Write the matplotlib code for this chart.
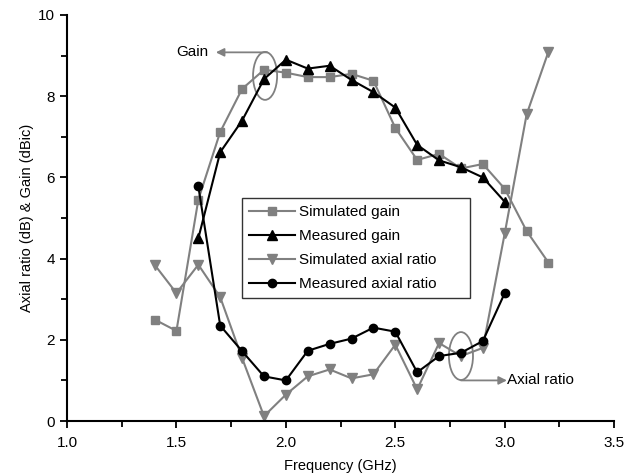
import numpy as np
import matplotlib
matplotlib.use('Agg')
import matplotlib.pyplot as plt
from matplotlib.patches import Ellipse
from matplotlib.ticker import MultipleLocator

plt.rcParams['font.family'] = ['Liberation Sans', 'DejaVu Sans']

# data
freq_sim = [1.4, 1.5, 1.6, 1.7, 1.8, 1.9, 2.0, 2.1, 2.2, 2.3, 2.4, 2.5, 2.6, 2.7, 2.8, 2.9, 3.0, 3.1, 3.2]
sim_gain = [2.5, 2.22, 5.45, 7.12, 8.18, 8.65, 8.58, 8.47, 8.47, 8.55, 8.38, 7.22, 6.43, 6.58, 6.22, 6.33, 5.72, 4.68, 3.9]
sim_ar = [3.85, 3.15, 3.85, 3.05, 1.55, 0.12, 0.65, 1.1, 1.27, 1.05, 1.15, 1.88, 0.78, 1.92, 1.6, 1.8, 4.62, 7.55, 9.1]

freq_meas = [1.6, 1.7, 1.8, 1.9, 2.0, 2.1, 2.2, 2.3, 2.4, 2.5, 2.6, 2.7, 2.8, 2.9, 3.0]
meas_gain = [4.5, 6.62, 7.4, 8.42, 8.9, 8.68, 8.75, 8.4, 8.1, 7.72, 6.8, 6.42, 6.25, 6.0, 5.4]
meas_ar = [5.78, 2.35, 1.72, 1.1, 1.0, 1.73, 1.9, 2.03, 2.3, 2.2, 1.2, 1.6, 1.68, 1.97, 3.15]

gray = '#808080'
fs = 11

fig = plt.figure(figsize=(6.34, 4.76), dpi=100)
ax = fig.add_axes([0.1057, 0.1155, 0.863, 0.853])

lw = 1.5; ms = 5.5
ax.plot(freq_sim, sim_gain, color=gray, lw=lw, marker='s', ms=ms, label='Simulated gain')
ax.plot(freq_meas, meas_gain, color='k', lw=lw, marker='^', ms=ms + 1.5, label='Measured gain')
ax.plot(freq_sim, sim_ar, color=gray, lw=lw, marker='v', ms=ms + 1.5, label='Simulated axial ratio')
ax.plot(freq_meas, meas_ar, color='k', lw=lw, marker='o', ms=ms + 0.5, label='Measured axial ratio')

# annotations
ax.add_patch(Ellipse((1.905, 8.5), 0.11, 1.18, fill=False, ec=gray, lw=1.3))
ax.annotate('', xy=(1.68, 9.08), xytext=(1.915, 9.08),
            arrowprops=dict(arrowstyle='-|>', color=gray, lw=1.3, mutation_scale=12, shrinkA=0, shrinkB=0))
ax.text(1.645, 9.08, 'Gain', ha='right', va='center', fontsize=fs)

ax.add_patch(Ellipse((2.80, 1.6), 0.11, 1.18, fill=False, ec=gray, lw=1.3))
ax.annotate('', xy=(3.01, 1.0), xytext=(2.80, 1.0),
            arrowprops=dict(arrowstyle='-|>', color=gray, lw=1.3, mutation_scale=12, shrinkA=0, shrinkB=0))
ax.text(3.012, 1.0, 'Axial ratio', ha='left', va='center', fontsize=fs)

ax.set_xlim(1.0, 3.5)
ax.set_ylim(0, 10)
ax.xaxis.set_major_locator(MultipleLocator(0.5))
ax.xaxis.set_minor_locator(MultipleLocator(0.25))
ax.yaxis.set_major_locator(MultipleLocator(2))
ax.yaxis.set_minor_locator(MultipleLocator(1))
ax.xaxis.set_major_formatter(plt.FormatStrFormatter('%.1f'))
ax.tick_params(which='both', direction='out', width=1.3, labelsize=fs)
ax.tick_params(axis='x', pad=6)
ax.tick_params(which='major', length=5)
ax.tick_params(which='minor', length=4)
for s in ['top', 'right']:
    ax.spines[s].set_visible(False)
for s in ['left', 'bottom']:
    ax.spines[s].set_linewidth(1.5)

ax.set_xlabel('Frequency (GHz)', fontsize=fs - 0.5, labelpad=6)
ax.set_ylabel('Axial ratio (dB) & Gain (dBic)', fontsize=fs - 0.5, labelpad=3)

leg = ax.legend(loc='upper left', bbox_to_anchor=(0.32, 0.3, 0.417, 0.249), mode='expand',
                fontsize=fs, frameon=True, fancybox=False, edgecolor='k', handlelength=3.0,
                borderpad=0.45, labelspacing=0.66, handletextpad=0.25, borderaxespad=0)
leg.get_frame().set_linewidth(1.0)

fig.savefig('out.png', dpi=100)
